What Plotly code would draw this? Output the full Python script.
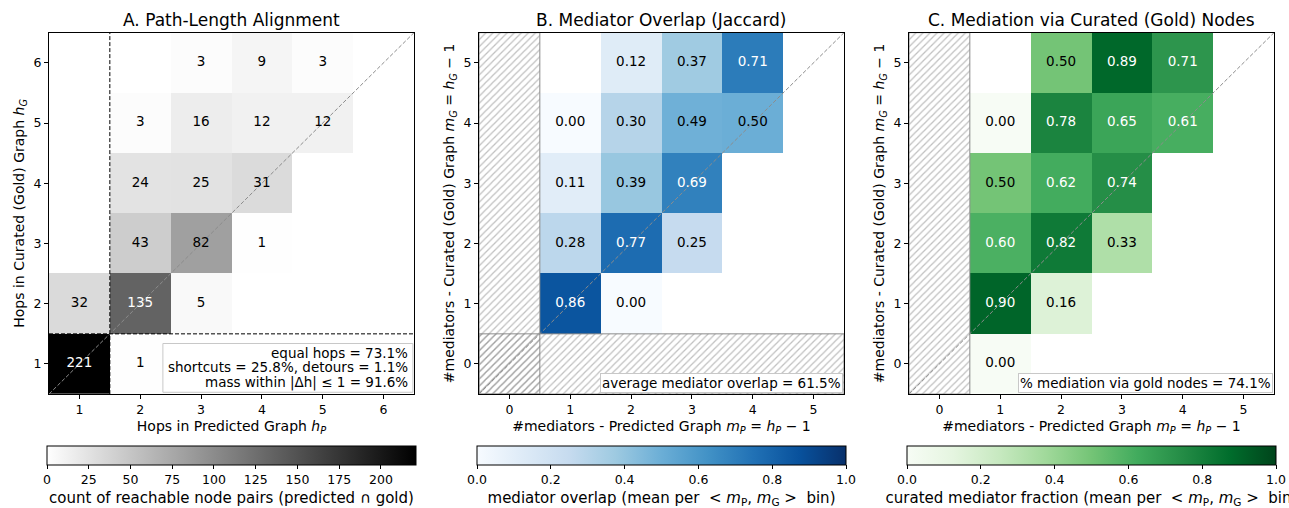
import plotly.graph_objects as go

# ---------------- data ----------------
# Panel A: hop counts, rows = hops in curated graph (1..6), cols = hops in predicted graph (1..6)
hops = [1, 2, 3, 4, 5, 6]
hop_counts = [
    [221, 1, None, None, None, None],
    [32, 135, 5, None, None, None],
    [None, 43, 82, 1, None, None],
    [None, 24, 25, 31, None, None],
    [None, 3, 16, 12, 12, None],
    [None, None, 3, 9, 3, None],
]

# Panels B/C: rows = curated mediators (0..5), cols = predicted mediators (0..5)
mediators = [0, 1, 2, 3, 4, 5]
jaccard = [
    [None, None, None, None, None, None],
    [None, 0.86, 0.00, None, None, None],
    [None, 0.28, 0.77, 0.25, None, None],
    [None, 0.11, 0.39, 0.69, None, None],
    [None, 0.00, 0.30, 0.49, 0.50, None],
    [None, None, 0.12, 0.37, 0.71, None],
]
gold_fraction = [
    [None, 0.00, None, None, None, None],
    [None, 0.90, 0.16, None, None, None],
    [None, 0.60, 0.82, 0.33, None, None],
    [None, 0.50, 0.62, 0.74, None, None],
    [None, 0.00, 0.78, 0.65, 0.61, None],
    [None, None, 0.50, 0.89, 0.71, None],
]
avg_overlap_pct = 61.5
gold_mediation_pct = 74.1

# ---------------- colour maps ----------------
def brewer(stops):
    n = len(stops) - 1
    return [[i / n, "rgb(%d,%d,%d)" % s] for i, s in enumerate(stops)]

GREYS = [[0, "rgb(255,255,255)"], [1, "rgb(0,0,0)"]]
BLUES = brewer([(247, 251, 255), (222, 235, 247), (198, 219, 239), (158, 202, 225),
                (107, 174, 214), (66, 146, 198), (33, 113, 181), (8, 81, 156), (8, 48, 107)])
GREENS = brewer([(247, 252, 245), (229, 245, 224), (199, 233, 192), (161, 217, 155),
                 (116, 196, 118), (65, 171, 93), (35, 139, 69), (0, 109, 44), (0, 68, 27)])

FONT = "DejaVu Sans"
W, H = 1289, 508
TICK_SIZE = 12.5
CELL_SIZE = 13.5
LABEL_SIZE = 14
TITLE_SIZE = 17
CBAR_TITLE_SIZE = 15
BOX_EDGE = "rgb(200,200,200)"

# plot-area pixel boxes (left, right) and shared (top, bottom)
panels_px = [(49, 414), (479, 844), (909, 1274)]
top_px, bot_px = 33, 398
cbar_top_px, cbar_h = 450, 19


def xdom(l, r):
    return [l / W, r / W]


ydom = [1 - bot_px / H, 1 - top_px / H]

fig = go.Figure()


def cell_text(xs, ys, z, fmt, zmax, xa, ya):
    tx, ty, tt, tc = [], [], [], []
    for j, yv in enumerate(ys):
        for i, xv in enumerate(xs):
            v = z[j][i]
            if v is None:
                continue
            tx.append(xv)
            ty.append(yv)
            tt.append(fmt.format(v))
            tc.append("white" if v > 0.5 * zmax else "black")
    fig.add_trace(go.Scatter(x=tx, y=ty, text=tt, mode="text", xaxis=xa, yaxis=ya,
                             textfont=dict(family=FONT, size=CELL_SIZE, color=tc),
                             hoverinfo="skip", showlegend=False))


def colorbar(l, r, title, dtick, fmt):
    return dict(orientation="h", x=(l + r) / 2 / W, xanchor="center",
                len=(r - l + 4) / W, lenmode="fraction",
                y=1 - cbar_top_px / H, yanchor="top", thickness=cbar_h,
                thicknessmode="pixels", xpad=0, ypad=0,
                outlinecolor="black", outlinewidth=1,
                ticks="outside", ticklen=4, tickcolor="black",
                dtick=dtick, tick0=0, tickformat=fmt,
                tickfont=dict(family=FONT, size=TICK_SIZE, color="black"),
                title=dict(text=title, side="bottom",
                           font=dict(family=FONT, size=CBAR_TITLE_SIZE, color="black")))


def diagonal(lo, hi, xa, ya):
    fig.add_trace(go.Scatter(x=[lo, hi], y=[lo, hi], mode="lines", xaxis=xa, yaxis=ya,
                             line=dict(color="rgb(140,140,140)", width=1, dash="4px,2px"),
                             hoverinfo="skip", showlegend=False))


def hatch(xs, ys, xa, ya):
    fig.add_trace(go.Scatter(x=xs, y=ys, mode="lines", fill="toself", xaxis=xa, yaxis=ya,
                             fillcolor="rgba(0,0,0,0)",
                             fillpattern=dict(shape="/", fgcolor="rgb(130,130,130)",
                                              bgcolor="rgba(0,0,0,0)", size=5,
                                              solidity=0.25, fillmode="overlay"),
                             line=dict(color="rgb(140,140,140)", width=1),
                             hoverinfo="skip", showlegend=False))


# ---------------- panel A ----------------
cmax_a = max(v for row in hop_counts for v in row if v is not None)
fig.add_trace(go.Heatmap(x=hops, y=hops, z=hop_counts, colorscale=GREYS, zmin=0, zmax=cmax_a,
                         xaxis="x", yaxis="y", hoverongaps=False,
                         colorbar=colorbar(*panels_px[0],
                                           "count of reachable node pairs (predicted ∩ gold)", 25, "d")))
diagonal(0.5, 6.5, "x", "y")
cell_text(hops, hops, hop_counts, "{:d}", cmax_a, "x", "y")

# summary statistics of the hop table
total = equal = shorter = longer = near = 0
for j, hg in enumerate(hops):
    for i, hp in enumerate(hops):
        v = hop_counts[j][i]
        if v is None:
            continue
        total += v
        if hp == hg:
            equal += v
        elif hp < hg:
            shorter += v
        else:
            longer += v
        if abs(hp - hg) <= 1:
            near += v
summary_a = [
    "equal hops = {:.1f}%".format(100 * equal / total),
    "shortcuts = {:.1f}%, detours = {:.1f}%".format(100 * shorter / total, 100 * longer / total),
    "mass within |Δh| ≤ 1 = {:.1f}%".format(100 * near / total),
]

# ---------------- panel B ----------------
fig.add_trace(go.Heatmap(x=mediators, y=mediators, z=jaccard, colorscale=BLUES, zmin=0, zmax=1,
                         xaxis="x2", yaxis="y2", hoverongaps=False,
                         colorbar=colorbar(*panels_px[1],
                                           "mediator overlap (mean per  < <i>m</i><sub>P</sub>, "
                                           "<i>m</i><sub>G</sub> >  bin)", 0.2, ".1f")))
diagonal(-0.5, 5.5, "x2", "y2")
hatch([-0.5, 0.5, 0.5, -0.5, -0.5], [-0.5, -0.5, 5.5, 5.5, -0.5], "x2", "y2")
hatch([-0.5, 5.5, 5.5, -0.5, -0.5], [-0.5, -0.5, 0.5, 0.5, -0.5], "x2", "y2")
cell_text(mediators, mediators, jaccard, "{:.2f}", 1.0, "x2", "y2")

# ---------------- panel C ----------------
fig.add_trace(go.Heatmap(x=mediators, y=mediators, z=gold_fraction, colorscale=GREENS, zmin=0, zmax=1,
                         xaxis="x3", yaxis="y3", hoverongaps=False,
                         colorbar=colorbar(*panels_px[2],
                                           "curated mediator fraction (mean per  < <i>m</i><sub>P</sub>, "
                                           "<i>m</i><sub>G</sub> >  bin)", 0.2, ".1f")))
diagonal(-0.5, 5.5, "x3", "y3")
hatch([-0.5, 0.5, 0.5, -0.5, -0.5], [-0.5, -0.5, 5.5, 5.5, -0.5], "x3", "y3")
cell_text(mediators, mediators, gold_fraction, "{:.2f}", 1.0, "x3", "y3")

# ---------------- axes ----------------
def axis(dom, rng, title, anchor):
    return dict(domain=dom, range=rng, anchor=anchor, showgrid=False, zeroline=False,
                showline=True, mirror=True, linecolor="black", linewidth=1,
                ticks="outside", ticklen=4, tickcolor="black", dtick=1,
                tickfont=dict(family=FONT, size=TICK_SIZE, color="black"),
                title=dict(text=title, font=dict(family=FONT, size=LABEL_SIZE, color="black"),
                           standoff=5))


mx = "#mediators - Predicted Graph <i>m<sub>P</sub></i> = <i>h<sub>P</sub></i> − 1"
my = "#mediators - Curated (Gold) Graph <i>m<sub>G</sub></i> = <i>h<sub>G</sub></i> − 1"

layout = dict(
    width=W, height=H, margin=dict(l=0, r=0, t=0, b=0),
    plot_bgcolor="white", paper_bgcolor="white",
    font=dict(family=FONT, color="black"),
    xaxis=axis(xdom(*panels_px[0]), [0.5, 6.5], "Hops in Predicted Graph <i>h<sub>P</sub></i>", "y"),
    yaxis=axis(ydom, [0.5, 6.5], "Hops in Curated (Gold) Graph <i>h<sub>G</sub></i>", "x"),
    xaxis2=axis(xdom(*panels_px[1]), [-0.5, 5.5], mx, "y2"),
    yaxis2=axis(ydom, [-0.5, 5.5], my, "x2"),
    xaxis3=axis(xdom(*panels_px[2]), [-0.5, 5.5], mx, "y3"),
    yaxis3=axis(ydom, [-0.5, 5.5], my, "x3"),
    showlegend=False,
)
fig.update_layout(**layout)

# dashed separators of the 1-hop row/column in panel A
fig.add_shape(type="line", xref="x", yref="y", x0=1.5, x1=1.5, y0=0.5, y1=6.5,
              line=dict(color="black", width=1, dash="4px,2px"))
fig.add_shape(type="line", xref="x", yref="y", x0=0.5, x1=6.5, y0=1.5, y1=1.5,
              line=dict(color="black", width=1, dash="4px,2px"))

# panel titles
titles = ["A. Path-Length Alignment", "B. Mediator Overlap (Jaccard)",
          "C. Mediation via Curated (Gold) Nodes"]
for (l, r), t in zip(panels_px, titles):
    fig.add_annotation(text=t, x=(l + r) / 2 / W, y=1 - 20 / H, xref="paper", yref="paper",
                       showarrow=False, font=dict(family=FONT, size=TITLE_SIZE, color="black"),
                       xanchor="center", yanchor="middle")

# panel A summary box: framed, three tightly spaced right-aligned lines
fig.add_shape(type="rect", xref="x domain", yref="y domain", x0=0.312, x1=0.997, y0=0.005, y1=0.14,
              fillcolor="white", line=dict(color=BOX_EDGE, width=1), layer="above")
for k, line_text in enumerate(summary_a):
    fig.add_annotation(text=line_text, xref="x domain", yref="y domain", x=0.988,
                       y=0.115 - 0.041 * k, xanchor="right", yanchor="middle", showarrow=False,
                       font=dict(family=FONT, size=CELL_SIZE, color="black"))

# single-line summary boxes of panels B and C
boxes = [("average mediator overlap = {:.1f}%".format(avg_overlap_pct), "x2", "y2"),
         ("% mediation via gold nodes = {:.1f}%".format(gold_mediation_pct), "x3", "y3")]
for text, xa, ya in boxes:
    fig.add_annotation(text=text, xref=xa + " domain", yref=ya + " domain", x=0.996, y=0.004,
                       xanchor="right", yanchor="bottom", align="right", showarrow=False,
                       font=dict(family=FONT, size=CELL_SIZE, color="black"),
                       bgcolor="white", bordercolor=BOX_EDGE, borderwidth=1, borderpad=1)

fig.write_html("out.html")
